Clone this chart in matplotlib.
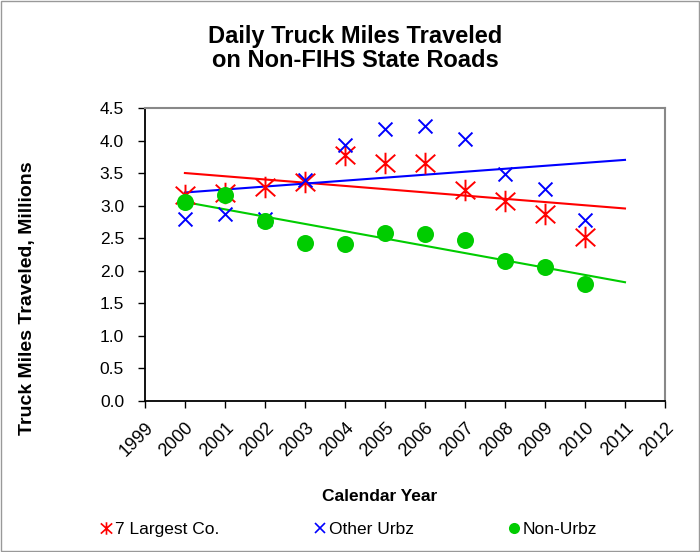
import numpy as np
import matplotlib
matplotlib.use("Agg")
import matplotlib.pyplot as plt
from matplotlib.patches import Rectangle
from matplotlib.path import Path

plt.rcParams['font.family'] = ['Liberation Sans', 'DejaVu Sans']

years = [2000, 2001, 2002, 2003, 2004, 2005, 2006, 2007, 2008, 2009, 2010]
largest7 = [3.16, 3.20, 3.28, 3.36, 3.78, 3.65, 3.65, 3.24, 3.08, 2.88, 2.52]
other_urbz = [2.80, 2.87, 2.80, 3.40, 3.93, 4.18, 4.22, 4.03, 3.48, 3.25, 2.78]
non_urbz = [3.06, 3.16, 2.77, 2.43, 2.41, 2.58, 2.57, 2.47, 2.15, 2.06, 1.80]
xticks = list(range(1999, 2013))
yticks = [0.0, 0.5, 1.0, 1.5, 2.0, 2.5, 3.0, 3.5, 4.0, 4.5]

# Excel-style star marker: an X plus a vertical bar
star = Path([(-1, -0.9), (1, 0.9), (-1, 0.9), (1, -0.9), (0, -1.1), (0, 1.1)],
            [Path.MOVETO, Path.LINETO, Path.MOVETO, Path.LINETO, Path.MOVETO, Path.LINETO])

fig = plt.figure(figsize=(7.0, 5.52), dpi=100)
fig.patches.append(Rectangle((0.001, 0.001), 0.997, 0.997, transform=fig.transFigure,
                             fill=False, edgecolor='#999999', linewidth=1))
ax = fig.add_axes([0.207, 0.2736, 0.743, 0.5306])

x = np.array(years, dtype=float)
trend_x = np.array([years[0], years[-1] + 1], dtype=float)
series = [
    (largest7, 'red', dict(marker=star, s=240, linewidths=1.4), '7 Largest Co.'),
    (other_urbz, 'blue', dict(marker='x', s=100, linewidths=1.4), 'Other Urbz'),
    (non_urbz, '#00CC00', dict(marker='o', s=150, linewidths=0), 'Non-Urbz'),
]
for vals, col, mk, lab in series:
    ax.scatter(x, vals, color=col, label=lab, zorder=3, clip_on=False, **mk)
    m, b = np.polyfit(x, vals, 1)
    ax.plot(trend_x, m * trend_x + b, color=col, linewidth=1.5, zorder=2)

ax.set_xlim(1999, 2012)
ax.set_ylim(0, 4.5)
ax.set_xticks(xticks)
ax.set_xticklabels([str(t) for t in xticks], rotation=45, ha='right', rotation_mode='anchor',
                   fontsize=13)
ax.set_yticks(yticks)
ax.set_yticklabels([f"{t:.1f}" for t in yticks], fontsize=12.5)
ax.tick_params(direction='out', length=5, width=1)
ax.tick_params(axis='y', pad=10)
ax.tick_params(axis='x', pad=8)
for s in ['left', 'bottom']:
    ax.spines[s].set_color('black')
    ax.spines[s].set_linewidth(1.3)
for s in ['top', 'right']:
    ax.spines[s].set_color('#888888')
    ax.spines[s].set_linewidth(1.5)

fig.text(0.04, 0.46, 'Truck Miles Traveled, Millions', fontsize=14, fontweight='bold',
         rotation=90, ha='center', va='center')
fig.text(0.543, 0.10, 'Calendar Year', fontsize=12.5, fontweight='bold', ha='center', va='center')
fig.text(0.507, 0.912, 'Daily Truck Miles Traveled\non Non-FIHS State Roads', fontsize=17,
         fontweight='bold', ha='center', va='center', linespacing=1.1)

fig.legend(handles=[
    plt.Line2D([], [], color='red', marker=star, markersize=9, linestyle='none', markeredgewidth=1.2),
    plt.Line2D([], [], color='blue', marker='x', markersize=7, linestyle='none', markeredgewidth=1.2),
    plt.Line2D([], [], color='#00CC00', marker='o', markersize=8, linestyle='none', markeredgewidth=0),
], labels=[s[3] for s in series], loc='center', bbox_to_anchor=(0.499, 0.04), ncol=3,
    frameon=False, fontsize=12.5, handlelength=0.6, handletextpad=0.2, columnspacing=5.5)

fig.savefig('out.png', dpi=100)
